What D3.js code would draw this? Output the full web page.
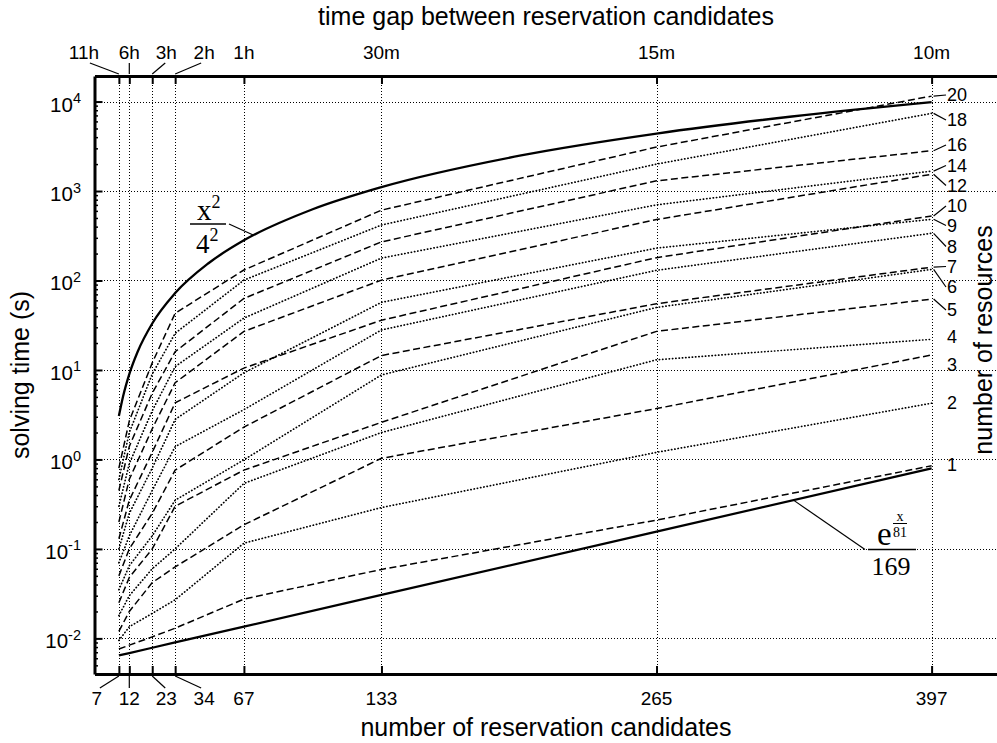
<!DOCTYPE html>
<html>
<head>
<meta charset="utf-8">
<script src="https://cdn.jsdelivr.net/npm/d3@7"></script>
<style>
  body { margin: 0; background: #fff; }
  svg text { font-family: "Liberation Sans", Arial, Helvetica, sans-serif; fill: #000; }
  svg text.serif { font-family: "Liberation Serif", "Times New Roman", serif; }
</style>
</head>
<body>
<svg id="chart" width="997" height="743"></svg>
<script>
// x positions (number of reservation candidates) and matching time gaps
const candidates = [7, 12, 23, 34, 67, 133, 265, 397]
const timeGaps = ['11h', '6h', '3h', '2h', '1h', '30m', '15m', '10m']
const decades = [1e-2, 1e-1, 1, 10, 100, 1000, 10000]
const decadeExp = ['-2', '-1', '0', '1', '2', '3', '4']

// solving time (s) per number of resources, one value per candidate count
const r1 = [0.0076, 0.0084, 0.0104, 0.013, 0.0275, 0.059, 0.21, 0.85]
const r2 = [0.0095, 0.0135, 0.019, 0.027, 0.116, 0.29, 1.2, 4.25]
const r3 = [0.012, 0.02, 0.042, 0.063, 0.186, 1.03, 3.7, 14.7]
const r4 = [0.018, 0.03, 0.06, 0.1, 0.54, 2.0, 13, 22]
const r5 = [0.025, 0.048, 0.1, 0.3, 0.76, 2.6, 27, 62]
const r6 = [0.035, 0.065, 0.14, 0.35, 0.99, 8.8, 50, 133]
const r7 = [0.05, 0.1, 0.25, 0.76, 2.3, 14.5, 55, 141]
const r8 = [0.07, 0.14, 0.45, 1.39, 3.6, 28, 130, 337]
const r9 = [0.1, 0.25, 0.8, 2.8, 9.3, 57, 230, 483]
const r10 = [0.13, 0.35, 1.2, 4.3, 10.5, 36, 180, 526]
const r12 = [0.2, 0.6, 2.2, 7.2, 27, 101, 480, 1540]
const r14 = [0.3, 0.9, 3.5, 10.9, 38, 178, 700, 1670]
const r16 = [0.45, 1.4, 5.5, 16, 63, 270, 1300, 2820]
const r18 = [0.6, 2.0, 9, 25.7, 101, 417, 2000, 7380]
const r20 = [0.8, 2.7, 12, 43, 131, 611, 3100, 11500]

// the two fitted bounds
const quadX = [7, 9, 12, 16, 23, 34, 50, 67, 100, 133, 200, 265, 330, 397]
const quadFit = [3.06, 5.06, 9, 16, 33.1, 72.3, 156, 281, 625, 1106, 2500, 4389, 6806, 9850]
const expFit = [0.00645, 0.00686, 0.00786, 0.009, 0.01353, 0.0306, 0.156, 0.795]

const series = [
  { n: 1, v: r1, dash: true }, { n: 2, v: r2, dash: false },
  { n: 3, v: r3, dash: true }, { n: 4, v: r4, dash: false },
  { n: 5, v: r5, dash: true }, { n: 6, v: r6, dash: false },
  { n: 7, v: r7, dash: true }, { n: 8, v: r8, dash: false },
  { n: 9, v: r9, dash: false }, { n: 10, v: r10, dash: true },
  { n: 12, v: r12, dash: true }, { n: 14, v: r14, dash: false },
  { n: 16, v: r16, dash: true }, { n: 18, v: r18, dash: false },
  { n: 20, v: r20, dash: true }
]
// label placement at the right end (layout only)
const labelY = { 1: 465, 2: 403, 3: 365, 4: 337, 5: 310, 6: 287, 7: 266.5, 8: 246.5, 9: 225.5, 10: 206, 12: 185.5, 14: 165.5, 16: 145, 18: 120, 20: 95 }
const withLeader = [5, 6, 7, 8, 9, 10, 12, 14, 16, 18, 20]

const plotLeft = 94.5, plotTop = 76, plotBottom = 674, plotRight = 1001
const x = d3.scaleLinear().domain([-4.7, 430.3]).range([plotLeft, plotRight])
const y = d3.scaleLog().domain([0.004, 19300]).range([plotBottom, plotTop])
const svg = d3.select('#chart')
const snap = v => Math.round(v) + 0.5

// dotted grid
const grid = svg.append('g').attr('stroke', '#000').attr('stroke-width', 1)
  .attr('stroke-dasharray', '1,2').attr('shape-rendering', 'crispEdges')
grid.selectAll('line.gx').data(candidates).enter().append('line').attr('class', 'gx')
  .attr('x1', d => snap(x(d))).attr('x2', d => snap(x(d))).attr('y1', plotTop).attr('y2', plotBottom)
grid.selectAll('line.gy').data(decades).enter().append('line').attr('class', 'gy')
  .attr('x1', plotLeft).attr('x2', plotRight).attr('y1', d => snap(y(d))).attr('y2', d => snap(y(d)))

// series
const line = d3.line().x((d, i) => x(candidates[i])).y(d => y(d))
svg.append('g').selectAll('path').data(series).enter().append('path')
  .attr('d', d => line(d.v))
  .attr('fill', 'none').attr('stroke', '#000')
  .attr('stroke-width', d => d.dash ? 1.5 : 1.7)
  .attr('stroke-linecap', d => d.dash ? 'butt' : 'round')
  .attr('stroke-dasharray', d => d.dash ? '7,3.5' : '0.3,3')

// fitted bounds
svg.append('path')
  .attr('d', d3.line().x((d, i) => x(quadX[i])).y(d => y(d)).curve(d3.curveMonotoneX)(quadFit))
  .attr('fill', 'none').attr('stroke', '#000').attr('stroke-width', 2.3)
svg.append('path')
  .attr('d', line(expFit))
  .attr('fill', 'none').attr('stroke', '#000').attr('stroke-width', 2.3)

// axes
const minors = []
for (let k = -3; k <= 4; k++) for (let m = 2; m <= 9; m++) {
  const v = m * Math.pow(10, k)
  if (v > 0.004 && v < 19300) minors.push(v)
}
function styleAxis (g, w) {
  g.select('.domain').attr('stroke-width', w)
  g.selectAll('.tick line').attr('stroke-width', 2)
}
svg.append('g').attr('transform', `translate(${plotLeft},0)`)
  .call(d3.axisLeft(y).tickValues(minors).tickSize(-3.5).tickFormat(''))
  .call(g => g.select('.domain').remove())
  .call(g => g.selectAll('.tick line').attr('stroke-width', 1.5))
svg.append('g').attr('transform', `translate(${plotLeft},0)`)
  .call(d3.axisLeft(y).tickValues(decades).tickSize(-8).tickSizeOuter(0).tickFormat(''))
  .call(g => styleAxis(g, 3))
svg.append('g').attr('transform', `translate(0,${plotBottom})`)
  .call(d3.axisBottom(x).tickValues(candidates).tickSize(-8).tickSizeOuter(0).tickFormat(''))
  .call(g => styleAxis(g, 3))
svg.append('g').attr('transform', `translate(0,${plotTop})`)
  .call(d3.axisTop(x).tickValues(candidates).tickSize(-8).tickSizeOuter(0).tickFormat(''))
  .call(g => styleAxis(g, 3))

// y tick labels 10^k
const yl = svg.append('g').selectAll('text').data(decades).enter().append('text')
  .attr('x', 81).attr('y', d => y(d) + 10).attr('text-anchor', 'end').style('font-size', '20.5px')
yl.text('10')
yl.append('tspan').attr('dy', -8.5).style('font-size', '14.5px').text((d, i) => decadeExp[i])

// bottom and top tick labels, the crowded ones pushed aside with leaders
const labelShift = [-22, 0, 14, 29, 0, 0, 0, 0]
const leaderEnd = [3, 0, -1, -3, 0, 0, 0, 0]
svg.append('g').selectAll('text').data(candidates).enter().append('text')
  .attr('x', (d, i) => x(d) + labelShift[i]).attr('y', 705)
  .attr('text-anchor', 'middle').style('font-size', '19px').text(d => d)
svg.append('g').selectAll('text').data(timeGaps).enter().append('text')
  .attr('x', (d, i) => x(candidates[i]) + labelShift[i] + (i === 0 ? -13 : 0)).attr('y', 58.5)
  .attr('text-anchor', 'middle').style('font-size', '19px').text(d => d)
const leaders = svg.append('g').attr('stroke', '#000').attr('stroke-width', 1.2)
candidates.slice(0, 4).forEach((c, i) => {
  const lx = x(c) + labelShift[i] + leaderEnd[i]
  leaders.append('line').attr('x1', x(c)).attr('y1', plotBottom + 2).attr('x2', lx).attr('y2', 688)
  const tx = i === 0 ? x(c) - 29 : lx
  leaders.append('line').attr('x1', x(c)).attr('y1', plotTop - 2).attr('x2', tx).attr('y2', 63)
})

// resource labels at right end
const last = candidates.length - 1
series.forEach(s => {
  const ly = labelY[s.n]
  svg.append('text').attr('x', 947).attr('y', ly + 6.4).style('font-size', '18px').text(s.n)
  if (withLeader.includes(s.n)) {
    leaders.append('line').attr('x1', x(candidates[last]) + 2).attr('y1', y(s.v[last]))
      .attr('x2', 946).attr('y2', ly)
  }
})

// axis titles
svg.append('text').attr('x', 546).attr('y', 25).attr('text-anchor', 'middle')
  .style('font-size', '25px').text('time gap between reservation candidates')
svg.append('text').attr('x', 546).attr('y', 736).attr('text-anchor', 'middle')
  .style('font-size', '25px').text('number of reservation candidates')
svg.append('text').attr('transform', 'translate(29,375) rotate(-90)').attr('text-anchor', 'middle')
  .style('font-size', '25px').text('solving time (s)')
svg.append('text').attr('transform', 'translate(992,340) rotate(-90)').attr('text-anchor', 'middle')
  .style('font-size', '25px').text('number of resources')

// formula annotations
const f = svg.append('g')
f.append('text').attr('class', 'serif').attr('x', 197).attr('y', 220).style('font-size', '29px')
  .text('x').append('tspan').attr('dy', -12).style('font-size', '18px').text('2')
f.append('line').attr('x1', 190).attr('x2', 226).attr('y1', 224).attr('y2', 224).attr('stroke', '#000').attr('stroke-width', 1.5)
f.append('text').attr('class', 'serif').attr('x', 196).attr('y', 253).style('font-size', '27px')
  .text('4').append('tspan').attr('dy', -12).style('font-size', '18px').text('2')
f.append('line').attr('x1', 229).attr('y1', 224).attr('x2', x(71.7)).attr('y2', y(321)).attr('stroke', '#000').attr('stroke-width', 1.2)

f.append('text').attr('class', 'serif').attr('x', 877).attr('y', 544.5).style('font-size', '33px').text('e')
f.append('text').attr('class', 'serif').attr('x', 900).attr('y', 520.5).attr('text-anchor', 'middle').style('font-size', '14px').text('x')
f.append('line').attr('x1', 893).attr('x2', 907).attr('y1', 523.5).attr('y2', 523.5).attr('stroke', '#000').attr('stroke-width', 1)
f.append('text').attr('class', 'serif').attr('x', 900).attr('y', 536.5).attr('text-anchor', 'middle').style('font-size', '14px').text('81')
f.append('line').attr('x1', 868).attr('x2', 916).attr('y1', 549.5).attr('y2', 549.5).attr('stroke', '#000').attr('stroke-width', 1.5)
f.append('text').attr('class', 'serif').attr('x', 891).attr('y', 575).attr('text-anchor', 'middle').style('font-size', '26px').text('169')
f.append('line').attr('x1', 865).attr('y1', 549.5).attr('x2', x(330.7)).attr('y2', y(0.351)).attr('stroke', '#000').attr('stroke-width', 1.2)
</script>
</body>
</html>
